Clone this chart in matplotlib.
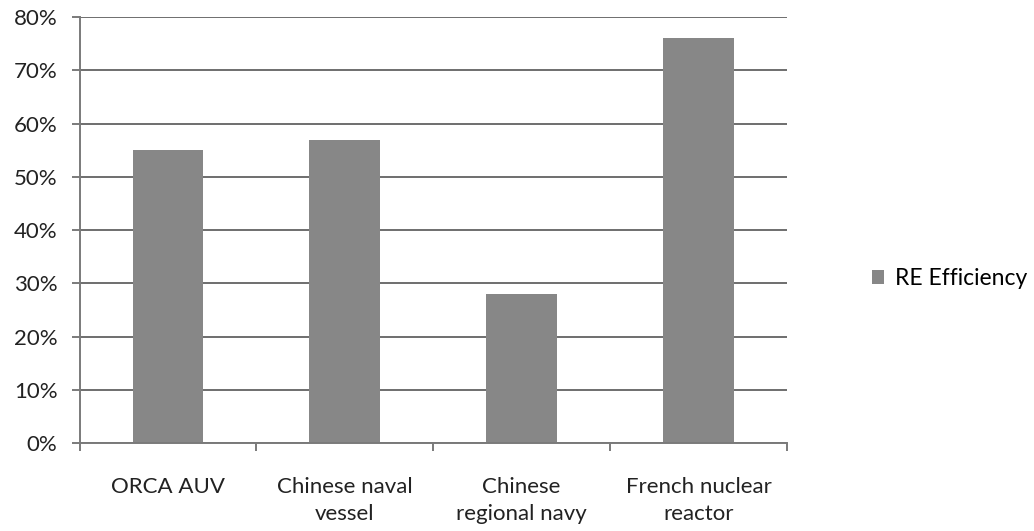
import matplotlib.pyplot as plt
from matplotlib.ticker import PercentFormatter

categories = ['ORCA AUV', 'Chinese naval\nvessel', 'Chinese\nregional navy', 'French nuclear\nreactor']
re_efficiency = [0.55, 0.57, 0.28, 0.76]
yticks = [0, 0.1, 0.2, 0.3, 0.4, 0.5, 0.6, 0.7, 0.8]

plt.rcParams['font.family'] = ['Lato', 'DejaVu Sans']

fig = plt.figure(figsize=(10.34, 5.31), dpi=100)
fig.patch.set_facecolor('w')
ax = fig.add_axes([0.077, 0.165, 0.684, 0.803])

x = range(len(categories))
ax.bar(x, re_efficiency, width=0.4, color='#878787', zorder=2, label='RE Efficiency')

# gridlines and axes
ax.set_xlim(-0.5, len(categories) - 0.5)
ax.set_ylim(0, 0.8)
ax.set_yticks(yticks)
ax.yaxis.set_major_formatter(PercentFormatter(1.0, decimals=0))
ax.grid(axis='y', color='#6e6e6e', linewidth=1.4, zorder=0)
ax.set_axisbelow(True)

for side in ['top', 'right']:
    ax.spines[side].set_visible(False)
for side in ['left', 'bottom']:
    ax.spines[side].set_color('#7a7a7a')
    ax.spines[side].set_linewidth(1.4)

# category boundary ticks on the x axis
ax.set_xticks([i - 0.5 for i in range(len(categories) + 1)], minor=True)
ax.set_xticks(list(x))
ax.set_xticklabels(categories, fontsize=16, color='#222222', linespacing=1.45)
ax.tick_params(axis='x', which='major', length=0, pad=24)
ax.tick_params(axis='x', which='minor', length=6, width=1.4, color='#7a7a7a')
ax.tick_params(axis='y', length=6, width=1.4, color='#7a7a7a', labelsize=16,
               labelcolor='#222222', pad=10)

ax.legend(loc='center left', bbox_to_anchor=(0.843, 0.476), bbox_transform=fig.transFigure,
          frameon=False, borderpad=0, borderaxespad=0, fontsize=16.5,
          handlelength=0.55, handleheight=0.55, handletextpad=0.45)

plt.savefig('out.png')
